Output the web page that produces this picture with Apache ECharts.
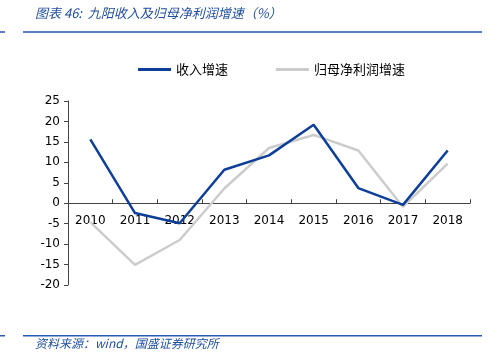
<!DOCTYPE html>
<html><head><meta charset="utf-8">
<script src="https://cdn.jsdelivr.net/npm/echarts@6/dist/echarts.min.js"></script>
<style>html,body{margin:0;padding:0;background:#fff}#c{width:500px;height:356px}</style>
</head><body><div id="c"></div>
<script>
var categories = ['2010','2011','2012','2013','2014','2015','2016','2017','2018'];
var revenueGrowth = [15.6, -2.4, -4.9, 8.2, 11.7, 19.2, 3.7, -0.4, 12.9];
var profitGrowth = [-4.6, -15.1, -9.0, 3.6, 13.5, 16.7, 12.9, -0.9, 9.7];
var yTicks = {min: -20, max: 25, interval: 5};

var gridTop = 101, gridBottom = 71, H = 356;
var gridH = H - gridTop - gridBottom;
var zeroOffset = -gridH * (0 - yTicks.min) / (yTicks.max - yTicks.min);

var chart = echarts.init(document.getElementById('c'), null, {renderer: 'canvas'});
var font = '"DejaVu Sans", Verdana, sans-serif';
chart.setOption({
  animation: false,
  backgroundColor: '#fff',
  graphic: [
    {type: 'text', left: 35, top: 7, style: {text: '图表 46:  九阳收入及归母净利润增速（%）', fill: '#1f4e9c', font: 'italic 13px "Noto Sans CJK SC", sans-serif'}},
    {type: 'rect', shape: {x: 0, y: 31, width: 5, height: 2}, style: {fill: '#5b7fc0'}},
    {type: 'rect', shape: {x: 23, y: 31, width: 459, height: 2}, style: {fill: '#5b7fc0'}},
    {type: 'rect', shape: {x: 0, y: 335, width: 5, height: 1.5}, style: {fill: '#2a5ab0'}},
    {type: 'rect', shape: {x: 23, y: 335, width: 459, height: 1.5}, style: {fill: '#2a5ab0'}},
    {type: 'text', left: 35, top: 337, style: {text: '资料来源：wind，国盛证券研究所', fill: '#1f4e9c', font: 'italic 12px "Noto Sans CJK SC", sans-serif'}}
  ],
  legend: {
    top: 58, left: 133, itemGap: 48, itemWidth: 33, itemHeight: 3,
    icon: 'rect',
    textStyle: {fontFamily: '"Noto Sans CJK SC", sans-serif', fontSize: 13, color: '#000'},
    data: ['收入增速', '归母净利润增速']
  },
  grid: {left: 68, right: 30, top: gridTop, bottom: gridBottom, containLabel: false},
  xAxis: {
    type: 'category', data: categories, boundaryGap: true,
    position: 'bottom', offset: zeroOffset,
    axisLine: {onZero: false, lineStyle: {color: '#444', width: 1}},
    axisTick: {show: true, inside: true, length: 4, lineStyle: {color: '#444'}},
    axisLabel: {color: '#000', fontSize: 12, fontFamily: font, margin: 12}
  },
  yAxis: {
    type: 'value', min: yTicks.min, max: yTicks.max, interval: yTicks.interval,
    splitLine: {show: false},
    axisLine: {show: true, lineStyle: {color: '#444', width: 1}},
    axisTick: {show: true, inside: false, length: 4, lineStyle: {color: '#444'}},
    axisLabel: {color: '#000', fontSize: 12, fontFamily: font, margin: 8}
  },
  series: [
    {name: '收入增速', type: 'line', data: revenueGrowth, symbol: 'none', z: 3,
     lineStyle: {color: '#0d3f99', width: 2.5}, itemStyle: {color: '#0d3f99'}},
    {name: '归母净利润增速', type: 'line', data: profitGrowth, symbol: 'none', z: 2,
     lineStyle: {color: '#cccccc', width: 2.5}, itemStyle: {color: '#cccccc'}}
  ]
});
</script></body></html>
